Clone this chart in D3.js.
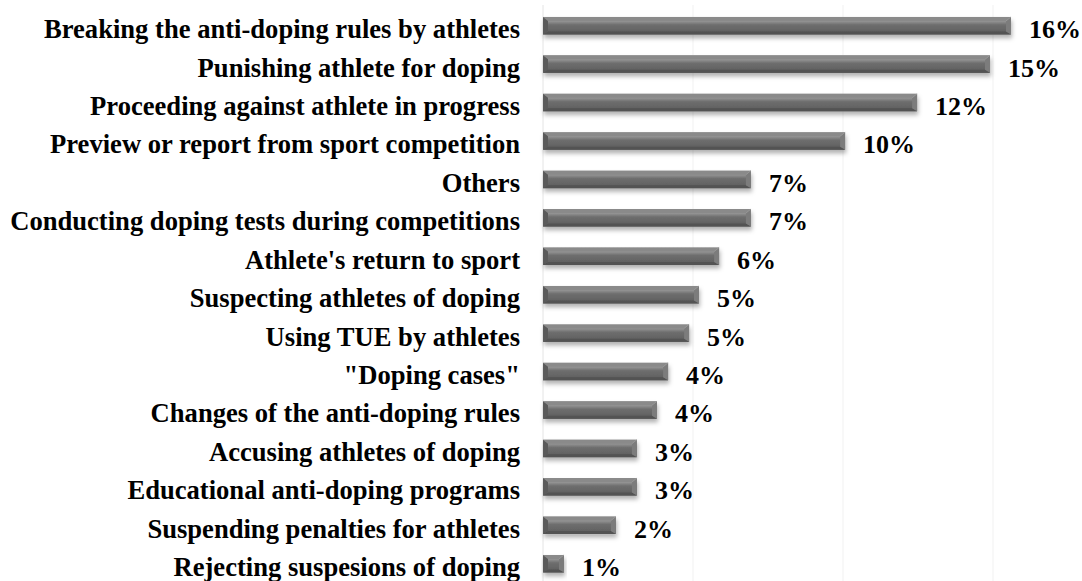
<!DOCTYPE html>
<html>
<head>
<meta charset="utf-8">
<script src="https://cdn.jsdelivr.net/npm/d3@7/dist/d3.min.js"></script>
<style>
html,body{margin:0;padding:0;background:#fff;}
svg{display:block;}
text{font-family:"Liberation Serif","Times New Roman",serif;font-weight:bold;fill:#000;}
</style>
</head>
<body>
<svg id="chart" width="1082" height="581"></svg>
<script>
const categories = [
  "Breaking the anti-doping rules by athletes",
  "Punishing athlete for doping",
  "Proceeding against athlete in progress",
  "Preview or report from sport competition",
  "Others",
  "Conducting doping tests during competitions",
  "Athlete's return to sport ",
  "Suspecting athletes of doping",
  "Using TUE by athletes",
  "\"Doping cases\"",
  "Changes of the anti-doping rules",
  "Accusing athletes of doping",
  "Educational anti-doping programs",
  "Suspending penalties for athletes",
  "Rejecting suspesions of doping"
];
const values = [15.6, 14.9, 12.47, 10.07, 6.93, 6.93, 5.87, 5.2, 4.87, 4.17, 3.8, 3.13, 3.13, 2.43, 0.7];
const valueLabels = ["16%", "15%", "12%", "10%", "7%", "7%", "6%", "5%", "5%", "4%", "4%", "3%", "3%", "2%", "1%"];
const gridTicks = [0, 5, 10, 15];

const svg = d3.select("#chart");
const x = d3.scaleLinear().domain([0, 15]).range([543, 993]);
const y = d3.scaleBand().domain(categories).range([-4, 593.4]).paddingInner(0.545).paddingOuter(0.545);

const defs = svg.append("defs");
const f = defs.append("filter").attr("id", "sh").attr("x", "-5%").attr("y", "-40%").attr("width", "115%").attr("height", "200%");
f.append("feDropShadow").attr("dx", 1).attr("dy", 3.5).attr("stdDeviation", 2).attr("flood-color", "#000").attr("flood-opacity", 0.3);

const gFace = defs.append("linearGradient").attr("id", "face").attr("x1", 0).attr("y1", 0).attr("x2", 0).attr("y2", 1);
[["0%", "#a8a8a8"], ["25%", "#929292"], ["45%", "#6e6e6e"], ["100%", "#5c5c5c"]].forEach(s => gFace.append("stop").attr("offset", s[0]).attr("stop-color", s[1]));

svg.append("g").selectAll("line").data(gridTicks).join("line")
  .attr("x1", d => x(d)).attr("x2", d => x(d))
  .attr("y1", 5).attr("y2", 581)
  .attr("stroke", d => d === 0 ? "#e4e4e4" : "#f1f1f1").attr("stroke-width", 1);

const rows = svg.append("g").selectAll("g").data(categories).join("g");

rows.each(function(c, i) {
  const g = d3.select(this);
  const x0 = x(0), x1 = x(values[i]);
  const y0 = y(c), h = y.bandwidth(), y1 = y0 + h;
  const b = Math.min(5, (x1 - x0) / 2.5);
  const bar = g.append("g").attr("filter", "url(#sh)");
  bar.append("rect").attr("x", x0).attr("y", y0).attr("width", x1 - x0).attr("height", h).attr("fill", "url(#face)");
  bar.append("polygon").attr("points", [[x0, y0], [x1, y0], [x1 - b, y0 + b * 0.8], [x0 + b, y0 + b * 0.8]].join(" ")).attr("fill", "#8a8a8a");
  bar.append("polygon").attr("points", [[x0, y1], [x1, y1], [x1 - b, y1 - b * 0.6], [x0 + b, y1 - b * 0.6]].join(" ")).attr("fill", "#525252");
  bar.append("polygon").attr("points", [[x0, y0], [x0 + b, y0 + b * 0.8], [x0 + b, y1 - b * 0.6], [x0, y1]].join(" ")).attr("fill", "#5a5a5a");
  bar.append("polygon").attr("points", [[x1, y0], [x1, y1], [x1 - b, y1 - b * 0.6], [x1 - b, y0 + b * 0.8]].join(" ")).attr("fill", "#7c7c7c");
  bar.append("line").attr("x1", x1 - b).attr("y1", y0 + b * 0.8).attr("x2", x1).attr("y2", y0).attr("stroke", "#9a9a9a").attr("stroke-width", 0.8);
  g.append("text").attr("x", 520).attr("y", y0 + h / 2 + 12.5).attr("text-anchor", "end").attr("font-size", 26.6).text(c);
  g.append("text").attr("x", x1 + 18).attr("y", y0 + h / 2 + 12.5).attr("font-size", 26).text(valueLabels[i]);
});
</script>
</body>
</html>
